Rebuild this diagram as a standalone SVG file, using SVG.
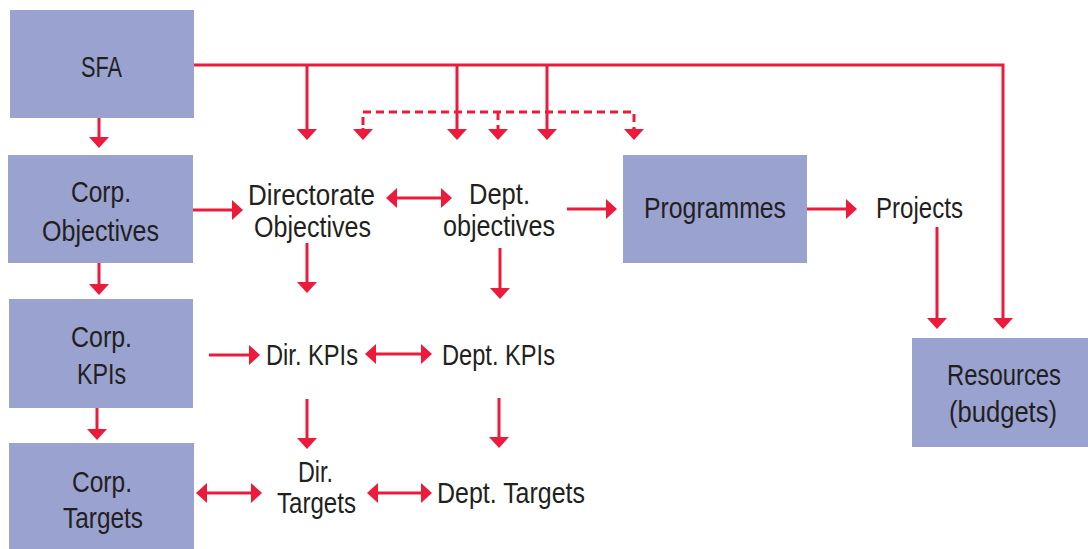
<svg xmlns="http://www.w3.org/2000/svg" width="1088" height="549" viewBox="0 0 1088 549">
<style>
.box{fill:#9AA2D0;}
.t{font-family:"Liberation Sans",Arial,sans-serif;font-size:30px;fill:#231F20;text-anchor:middle;}
.c{fill:none;stroke:#EC1B3B;stroke-width:3;}
.a{marker-end:url(#ah);}
.d{marker-start:url(#ahs);marker-end:url(#ah);}
.dash{stroke-dasharray:8 5;}
</style>
<defs>
<marker id="ah" markerUnits="userSpaceOnUse" markerWidth="11" markerHeight="20" viewBox="0 0 11 20" refX="9" refY="10" orient="auto">
<path d="M0,0 L11,10 L0,20 z" fill="#EC1B3B"/>
</marker>
<marker id="ahs" markerUnits="userSpaceOnUse" markerWidth="11" markerHeight="20" viewBox="0 0 11 20" refX="9" refY="10" orient="auto-start-reverse">
<path d="M0,0 L11,10 L0,20 z" fill="#EC1B3B"/>
</marker>
</defs>
<rect width="1088" height="549" fill="#FFFFFF"/>

<g id="connectors">
<path class="c" d="M194,65 H1003 V327" marker-end="url(#ah)"/>
<path class="c a" d="M307,65 V138"/>
<path class="c a" d="M457,65 V138"/>
<path class="c a" d="M547,65 V138"/>
<path class="c dash" d="M363,138 V112 H634 V138"/>
<path class="c a" d="M363,128 V138"/>
<path class="c a" d="M634,128 V138"/>
<path class="c dash a" d="M498,112 V138"/>
<path class="c a" d="M99,118 V146"/>
<path class="c a" d="M99,263 V293"/>
<path class="c a" d="M97,408 V438"/>
<path class="c a" d="M193,210 H241"/>
<path class="c d" d="M388,198 H450"/>
<path class="c a" d="M567,209 H615"/>
<path class="c a" d="M807,209 H855"/>
<path class="c a" d="M937,227 V327"/>
<path class="c a" d="M307,243 V291"/>
<path class="c a" d="M500,248 V297"/>
<path class="c a" d="M209,355 H258"/>
<path class="c d" d="M367,354 H430"/>
<path class="c a" d="M307,399 V447"/>
<path class="c a" d="M499,398 V446"/>
<path class="c d" d="M198,493 H260"/>
<path class="c d" d="M369,493 H430"/>
</g>

<g id="sfa">
<rect class="box" x="10" y="10" width="184" height="108"/>
<text class="t" x="101.5" y="77" textLength="41" lengthAdjust="spacingAndGlyphs">SFA</text>
</g>
<g id="corp-objectives">
<rect class="box" x="8" y="155" width="185" height="108"/>
<text class="t" x="101" y="202" textLength="60" lengthAdjust="spacingAndGlyphs">Corp.</text>
<text class="t" x="100.5" y="241" textLength="117" lengthAdjust="spacingAndGlyphs">Objectives</text>
</g>
<g id="corp-kpis">
<rect class="box" x="9" y="299" width="184" height="109"/>
<text class="t" x="101.5" y="347" textLength="61" lengthAdjust="spacingAndGlyphs">Corp.</text>
<text class="t" x="101.5" y="384" textLength="49" lengthAdjust="spacingAndGlyphs">KPIs</text>
</g>
<g id="corp-targets">
<rect class="box" x="9" y="443" width="185" height="106"/>
<text class="t" x="102" y="492" textLength="60" lengthAdjust="spacingAndGlyphs">Corp.</text>
<text class="t" x="103" y="528" textLength="80" lengthAdjust="spacingAndGlyphs">Targets</text>
</g>
<g id="directorate-objectives">
<text class="t" x="311.5" y="205" textLength="127" lengthAdjust="spacingAndGlyphs">Directorate</text>
<text class="t" x="312.5" y="237" textLength="117" lengthAdjust="spacingAndGlyphs">Objectives</text>
</g>
<g id="dept-objectives">
<text class="t" x="499.5" y="204" textLength="61" lengthAdjust="spacingAndGlyphs">Dept.</text>
<text class="t" x="499" y="236" textLength="112" lengthAdjust="spacingAndGlyphs">objectives</text>
</g>
<g id="programmes">
<rect class="box" x="623" y="155" width="184" height="108"/>
<text class="t" x="715" y="218" textLength="142" lengthAdjust="spacingAndGlyphs">Programmes</text>
</g>
<g id="projects">
<text class="t" x="919.5" y="218" textLength="87" lengthAdjust="spacingAndGlyphs">Projects</text>
</g>
<g id="resources">
<rect class="box" x="912" y="338" width="176" height="109"/>
<text class="t" x="1004" y="385" textLength="114" lengthAdjust="spacingAndGlyphs">Resources</text>
<text class="t" x="1003" y="422" textLength="108" lengthAdjust="spacingAndGlyphs">(budgets)</text>
</g>
<g id="dir-kpis">
<text class="t" x="312" y="365" textLength="92" lengthAdjust="spacingAndGlyphs">Dir. KPIs</text>
</g>
<g id="dept-kpis">
<text class="t" x="498.5" y="365" textLength="113" lengthAdjust="spacingAndGlyphs">Dept. KPIs</text>
</g>
<g id="dir-targets">
<text class="t" x="315.5" y="482" textLength="35" lengthAdjust="spacingAndGlyphs">Dir.</text>
<text class="t" x="316.5" y="513" textLength="79" lengthAdjust="spacingAndGlyphs">Targets</text>
</g>
<g id="dept-targets">
<text class="t" x="511" y="503" textLength="148" lengthAdjust="spacingAndGlyphs">Dept. Targets</text>
</g>
</svg>
